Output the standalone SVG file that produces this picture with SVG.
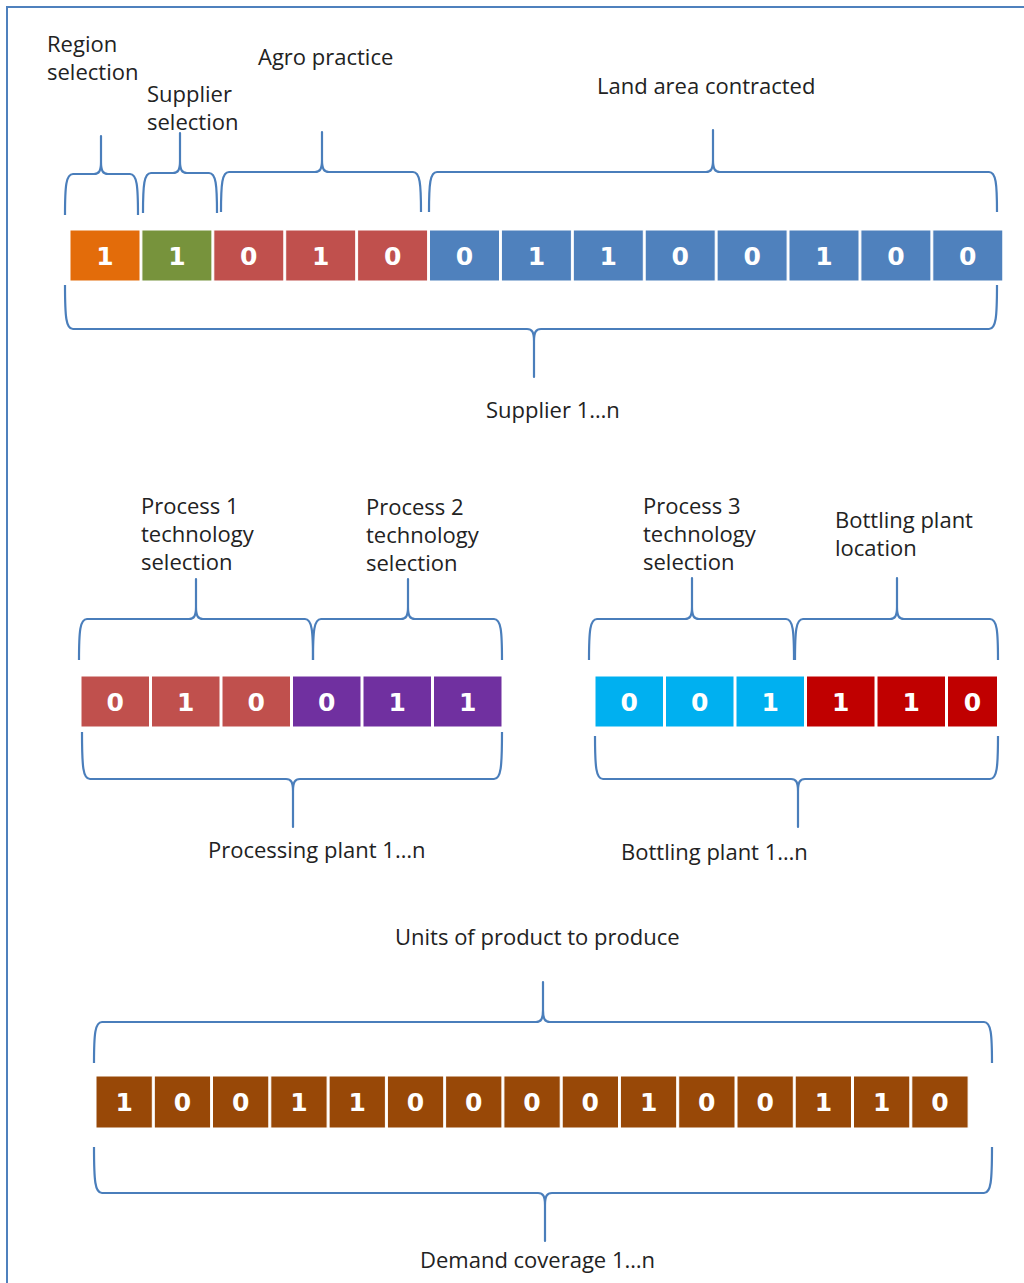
<svg xmlns="http://www.w3.org/2000/svg" width="1024" height="1283" viewBox="0 0 1024 1283">
<style>
.lbl{font-family:"Open Sans","Liberation Sans",sans-serif;font-size:22px;fill:#222}
.dg{font-family:"DejaVu Sans","Liberation Sans",sans-serif;font-weight:bold;font-size:25px;fill:#fff;text-anchor:middle}
.br{fill:none;stroke:#4a7ebb;stroke-width:2.2;stroke-linejoin:round}
.c{stroke:#fff;stroke-width:1}
.or{fill:#e36c0a}.gr{fill:#77933c}.rd{fill:#c0504d}.bl{fill:#4f81bd}.pu{fill:#7030a0}.cy{fill:#00b0f0}.dr{fill:#c00000}.bw{fill:#984807}
</style>
<rect width="1024" height="1283" fill="#fff"/>
<path d="M7 1283 V7 H1024" fill="none" stroke="#4f81bd" stroke-width="2"/>

<g id="labels">
<text class="lbl" x="47" y="52">Region</text>
<text class="lbl" x="47" y="80">selection</text>
<text class="lbl" x="147" y="102">Supplier</text>
<text class="lbl" x="147" y="130">selection</text>
<text class="lbl" x="258" y="65">Agro practice</text>
<text class="lbl" x="597" y="94">Land area contracted</text>
<text class="lbl" x="486" y="418">Supplier 1…n</text>
<text class="lbl" x="141" y="514">Process 1</text>
<text class="lbl" x="141" y="542">technology</text>
<text class="lbl" x="141" y="570">selection</text>
<text class="lbl" x="366" y="515">Process 2</text>
<text class="lbl" x="366" y="543">technology</text>
<text class="lbl" x="366" y="571">selection</text>
<text class="lbl" x="643" y="514">Process 3</text>
<text class="lbl" x="643" y="542">technology</text>
<text class="lbl" x="643" y="570">selection</text>
<text class="lbl" x="835" y="528">Bottling plant</text>
<text class="lbl" x="835" y="556">location</text>
<text class="lbl" x="208" y="858">Processing plant 1…n</text>
<text class="lbl" x="621" y="860">Bottling plant 1…n</text>
<text class="lbl" x="395" y="945">Units of product to produce</text>
<text class="lbl" x="420" y="1268">Demand coverage 1…n</text>
</g>

<g id="connectors">
<path class="br" d="M65 215 C65 186 66 174 73 174 H94 C99 174 101 171 101 162 L101 136 L101 162 C101 171 103 174 108 174 H130 C137 174 138 186 138 215"/>
<path class="br" d="M143 213 C143 185 144 173 151 173 H173 C178 173 180 170 180 161 L180 133 L180 161 C180 170 182 173 187 173 H209 C216 173 217 185 217 213"/>
<path class="br" d="M221 212 C221 184 222 172 229 172 H315 C320 172 322 169 322 160 L322 132 L322 160 C322 169 324 172 329 172 H413 C420 172 421 184 421 212"/>
<path class="br" d="M429 212 C429 184 430 172 437 172 H706 C711 172 713 169 713 160 L713 130 L713 160 C713 169 715 172 720 172 H989 C996 172 997 184 997 212"/>
<path class="br" d="M65 285 C65 317 66 329 73 329 H527 C532 329 534 332 534 341 L534 377 L534 341 C534 332 536 329 541 329 H989 C996 329 997 317 997 285"/>
<path class="br" d="M79 660 C79 631 80 619 87 619 H189 C194 619 196 616 196 607 L196 579 L196 607 C196 616 198 619 203 619 H305 C312 619 313 631 313 660"/>
<path class="br" d="M313 660 C313 631 314 619 321 619 H401 C406 619 408 616 408 607 L408 579 L408 607 C408 616 410 619 415 619 H494 C501 619 502 631 502 660"/>
<path class="br" d="M82 732 C82 767 83 779 90 779 H286 C291 779 293 782 293 791 L293 827 L293 791 C293 782 295 779 300 779 H494 C501 779 502 767 502 732"/>
<path class="br" d="M589 660 C589 631 590 619 597 619 H685 C690 619 692 616 692 607 L692 578 L692 607 C692 616 694 619 699 619 H786 C793 619 794 631 794 660"/>
<path class="br" d="M795 660 C795 631 796 619 803 619 H890 C895 619 897 616 897 607 L897 578 L897 607 C897 616 899 619 904 619 H990 C997 619 998 631 998 660"/>
<path class="br" d="M595 736 C595 767 596 779 603 779 H791 C796 779 798 782 798 791 L798 827 L798 791 C798 782 800 779 805 779 H990 C997 779 998 767 998 736"/>
<path class="br" d="M94 1063 C94 1034 95 1022 102 1022 H536 C541 1022 543 1019 543 1010 L543 982 L543 1010 C543 1019 545 1022 550 1022 H984 C991 1022 992 1034 992 1063"/>
<path class="br" d="M94 1147 C94 1181 95 1193 102 1193 H538 C543 1193 545 1196 545 1205 L545 1241 L545 1205 C545 1196 547 1193 552 1193 H984 C991 1193 992 1181 992 1147"/>
</g>

<g id="supplier-chromosome">
<rect class="c or" x="70" y="230" width="70" height="51"/><text class="dg" x="105" y="265">1</text>
<rect class="c gr" x="141.9" y="230" width="70" height="51"/><text class="dg" x="176.9" y="265">1</text>
<rect class="c rd" x="213.8" y="230" width="70" height="51"/><text class="dg" x="248.8" y="265">0</text>
<rect class="c rd" x="285.7" y="230" width="70" height="51"/><text class="dg" x="320.7" y="265">1</text>
<rect class="c rd" x="357.6" y="230" width="70" height="51"/><text class="dg" x="392.6" y="265">0</text>
<rect class="c bl" x="429.5" y="230" width="70" height="51"/><text class="dg" x="464.5" y="265">0</text>
<rect class="c bl" x="501.4" y="230" width="70" height="51"/><text class="dg" x="536.4" y="265">1</text>
<rect class="c bl" x="573.3" y="230" width="70" height="51"/><text class="dg" x="608.3" y="265">1</text>
<rect class="c bl" x="645.2" y="230" width="70" height="51"/><text class="dg" x="680.2" y="265">0</text>
<rect class="c bl" x="717.1" y="230" width="70" height="51"/><text class="dg" x="752.1" y="265">0</text>
<rect class="c bl" x="789" y="230" width="70" height="51"/><text class="dg" x="824" y="265">1</text>
<rect class="c bl" x="860.9" y="230" width="70" height="51"/><text class="dg" x="895.9" y="265">0</text>
<rect class="c bl" x="932.8" y="230" width="70" height="51"/><text class="dg" x="967.8" y="265">0</text>
</g>

<g id="processing-chromosome">
<rect class="c rd" x="81" y="676" width="68.5" height="51"/><text class="dg" x="115.3" y="711">0</text>
<rect class="c rd" x="151.5" y="676" width="68.5" height="51"/><text class="dg" x="185.8" y="711">1</text>
<rect class="c rd" x="222" y="676" width="68.5" height="51"/><text class="dg" x="256.3" y="711">0</text>
<rect class="c pu" x="292.5" y="676" width="68.5" height="51"/><text class="dg" x="326.8" y="711">0</text>
<rect class="c pu" x="363" y="676" width="68.5" height="51"/><text class="dg" x="397.3" y="711">1</text>
<rect class="c pu" x="433.5" y="676" width="68.5" height="51"/><text class="dg" x="467.8" y="711">1</text>
</g>

<g id="bottling-chromosome">
<rect class="c cy" x="595" y="676" width="68.5" height="51"/><text class="dg" x="629.3" y="711">0</text>
<rect class="c cy" x="665.5" y="676" width="68.5" height="51"/><text class="dg" x="699.8" y="711">0</text>
<rect class="c cy" x="736" y="676" width="68.5" height="51"/><text class="dg" x="770.3" y="711">1</text>
<rect class="c dr" x="806.5" y="676" width="68.5" height="51"/><text class="dg" x="840.8" y="711">1</text>
<rect class="c dr" x="877" y="676" width="68.5" height="51"/><text class="dg" x="911.3" y="711">1</text>
<rect class="c dr" x="947.5" y="676" width="50" height="51"/><text class="dg" x="972.5" y="711">0</text>
</g>

<g id="demand-chromosome">
<rect class="c bw" x="96" y="1076" width="56.3" height="52"/><text class="dg" x="124.2" y="1111">1</text>
<rect class="c bw" x="154.3" y="1076" width="56.3" height="52"/><text class="dg" x="182.4" y="1111">0</text>
<rect class="c bw" x="212.5" y="1076" width="56.3" height="52"/><text class="dg" x="240.7" y="1111">0</text>
<rect class="c bw" x="270.8" y="1076" width="56.3" height="52"/><text class="dg" x="299" y="1111">1</text>
<rect class="c bw" x="329.1" y="1076" width="56.3" height="52"/><text class="dg" x="357.2" y="1111">1</text>
<rect class="c bw" x="387.4" y="1076" width="56.3" height="52"/><text class="dg" x="415.5" y="1111">0</text>
<rect class="c bw" x="445.6" y="1076" width="56.3" height="52"/><text class="dg" x="473.8" y="1111">0</text>
<rect class="c bw" x="503.9" y="1076" width="56.3" height="52"/><text class="dg" x="532" y="1111">0</text>
<rect class="c bw" x="562.2" y="1076" width="56.3" height="52"/><text class="dg" x="590.3" y="1111">0</text>
<rect class="c bw" x="620.4" y="1076" width="56.3" height="52"/><text class="dg" x="648.6" y="1111">1</text>
<rect class="c bw" x="678.7" y="1076" width="56.3" height="52"/><text class="dg" x="706.8" y="1111">0</text>
<rect class="c bw" x="737" y="1076" width="56.3" height="52"/><text class="dg" x="765.1" y="1111">0</text>
<rect class="c bw" x="795.2" y="1076" width="56.3" height="52"/><text class="dg" x="823.4" y="1111">1</text>
<rect class="c bw" x="853.5" y="1076" width="56.3" height="52"/><text class="dg" x="881.6" y="1111">1</text>
<rect class="c bw" x="911.8" y="1076" width="56.3" height="52"/><text class="dg" x="939.9" y="1111">0</text>
</g>
</svg>
